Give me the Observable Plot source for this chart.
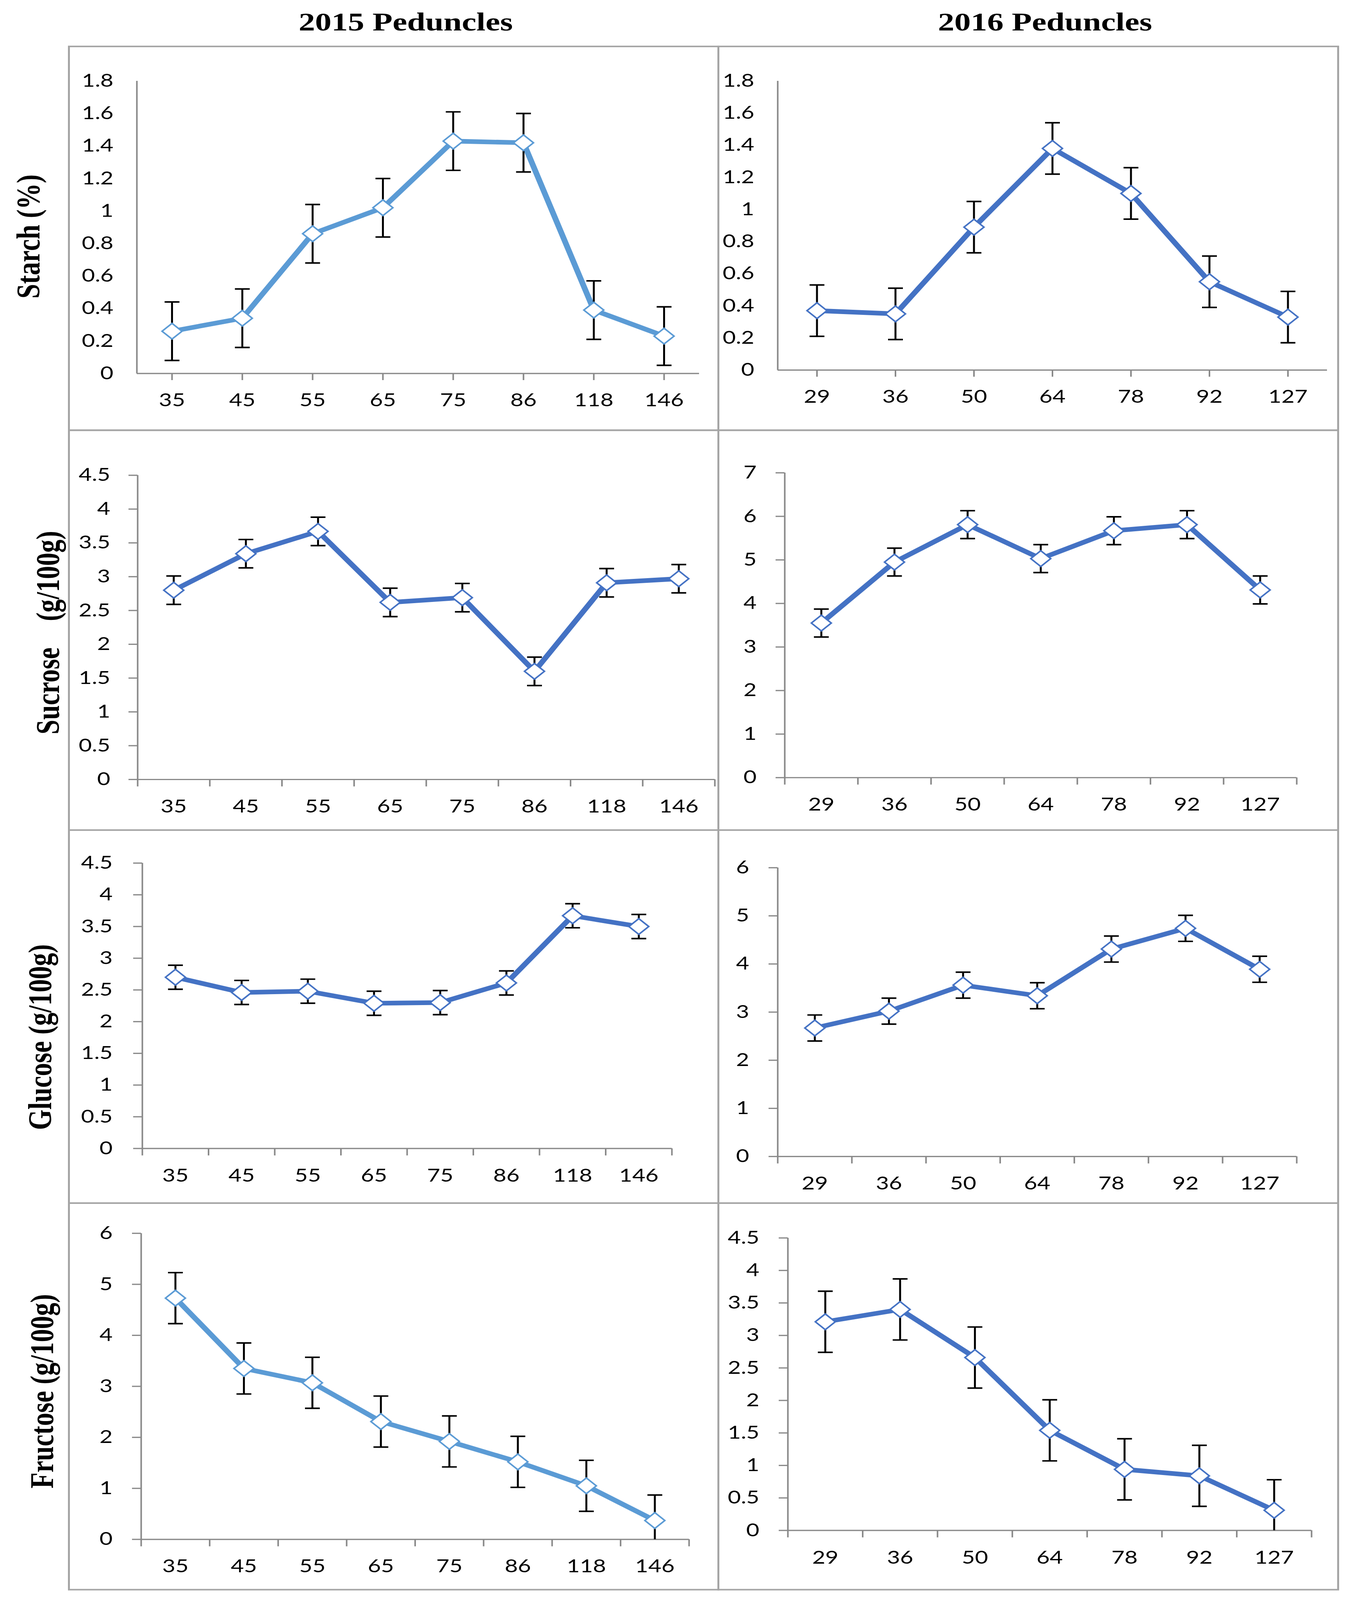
<!DOCTYPE html>
<html>
<head>
<meta charset="utf-8">
<script src="https://cdn.jsdelivr.net/npm/d3@7"></script>
<script src="https://cdn.jsdelivr.net/npm/@observablehq/plot@0.6"></script>
<style>
html,body{margin:0;padding:0;background:#fff;overflow:hidden;}
#root{position:absolute;left:0;top:0;width:3462px;height:5186px;overflow:hidden;background:#fff;transform-origin:0 0;}
.title{position:absolute;font-family:"Liberation Serif","Times New Roman",serif;font-weight:bold;font-size:84px;line-height:1;white-space:nowrap;transform:translate(-50%,-50%);color:#000;}
.panel{position:absolute;}
.box{position:absolute;border:5px solid #a5a5a5;box-sizing:border-box;}
</style>
</head>
<body>
<div id="root"></div>
<script>
// ---------- data ----------
const days2015 = ["35", "45", "55", "65", "75", "86", "118", "146"];
const days2016 = ["29", "36", "50", "64", "78", "92", "127"];

const starch2015 = [0.26, 0.34, 0.86, 1.02, 1.43, 1.42, 0.39, 0.23];
const starch2015Err = [0.18, 0.18, 0.18, 0.18, 0.18, 0.18, 0.18, 0.18];
const starch2016 = [0.37, 0.35, 0.89, 1.38, 1.10, 0.55, 0.33];
const starch2016Err = [0.16, 0.16, 0.16, 0.16, 0.16, 0.16, 0.16];

const sucrose2015 = [2.80, 3.34, 3.67, 2.62, 2.69, 1.60, 2.91, 2.97];
const sucrose2015Err = [0.21, 0.21, 0.21, 0.21, 0.21, 0.21, 0.21, 0.21];
const sucrose2016 = [3.55, 4.95, 5.81, 5.03, 5.67, 5.81, 4.31];
const sucrose2016Err = [0.32, 0.32, 0.32, 0.32, 0.32, 0.32, 0.32];

const glucose2015 = [2.70, 2.46, 2.48, 2.29, 2.30, 2.61, 3.67, 3.50];
const glucose2015Err = [0.19, 0.19, 0.19, 0.19, 0.19, 0.19, 0.19, 0.19];
const glucose2016 = [2.67, 3.02, 3.56, 3.34, 4.31, 4.74, 3.89];
const glucose2016Err = [0.27, 0.27, 0.27, 0.27, 0.27, 0.27, 0.27];

const fructose2015 = [4.73, 3.35, 3.07, 2.31, 1.92, 1.52, 1.05, 0.37];
const fructose2015Err = [0.50, 0.50, 0.50, 0.50, 0.50, 0.50, 0.50, 0.50];
const fructose2016 = [3.21, 3.40, 2.66, 1.54, 0.94, 0.84, 0.31];
const fructose2016Err = [0.47, 0.47, 0.47, 0.47, 0.47, 0.47, 0.47];

const ticksStarch = [0, 0.2, 0.4, 0.6, 0.8, 1, 1.2, 1.4, 1.6, 1.8];
const ticksHalf45 = [0, 0.5, 1, 1.5, 2, 2.5, 3, 3.5, 4, 4.5];
const ticks7 = [0, 1, 2, 3, 4, 5, 6, 7];
const ticks6 = [0, 1, 2, 3, 4, 5, 6];

const columnTitles = ["2015 Peduncles", "2016 Peduncles"];
const rowLabels = ["Starch (%)", "Sucrose\u00a0\u00a0\u00a0\u00a0(g/100g)", "Glucose (g/100g)", "Fructose (g/100g)"];

// ---------- styles / layout ----------
const lightBlue = "#5B9BD5";
const darkBlue = "#4472C4";
const axisGrey = "#898989";

const PAGE_W = 3462, PAGE_H = 5186;
const root = document.getElementById("root");
// the window may be shorter than the reference: fit the full figure into it
const sy = Math.min(1, (window.innerHeight || PAGE_H) / PAGE_H);
const sx = Math.min(1, (window.innerWidth || PAGE_W) / PAGE_W);
root.style.transform = `scale(${sx}, ${sy})`;

const colX = [{left: 0, width: 1839}, {left: 1839, width: 1587}];
const rowY = [{top: 150, height: 1244}, {top: 1394, height: 1296}, {top: 2690, height: 1209}, {top: 3899, height: 1253}];

const panels = [
  {col: 0, row: 0, cats: days2015, vals: starch2015, errs: starch2015Err, ticks: ticksStarch, ymax: 1.8, color: lightBlue, centerTicks: true,
   m: [112, 49, 184, 350], yPad: 60, label: rowLabels[0], labelPos: [73, 766]},
  {col: 1, row: 0, cats: days2016, vals: starch2016, errs: starch2016Err, ticks: ticksStarch, ymax: 1.8, color: darkBlue, centerTicks: true,
   m: [112, 28, 195, 152], yPad: 60},
  {col: 0, row: 1, cats: days2015, vals: sucrose2015, errs: sucrose2015Err, ticks: ticksHalf45, ymax: 4.5, color: darkBlue, centerTicks: false,
   m: [146, 9, 164, 352], yPad: 47, label: rowLabels[1], labelPos: [123, 2050]},
  {col: 1, row: 1, cats: days2016, vals: sucrose2016, errs: sucrose2016Err, ticks: ticks7, ymax: 7, color: darkBlue, centerTicks: false,
   m: [138, 106, 170, 170], yPad: 49},
  {col: 0, row: 2, cats: days2015, vals: glucose2015, errs: glucose2015Err, ticks: ticksHalf45, ymax: 4.5, color: darkBlue, centerTicks: false,
   m: [107, 119, 177, 364], yPad: 53, label: rowLabels[2], labelPos: [103, 3361]},
  {col: 1, row: 2, cats: days2016, vals: glucose2016, errs: glucose2016Err, ticks: ticks6, ymax: 6, color: darkBlue, centerTicks: false,
   m: [122, 106, 151, 152], yPad: 50},
  {col: 0, row: 3, cats: days2015, vals: fructose2015, errs: fructose2015Err, ticks: ticks6, ymax: 6, color: lightBlue, centerTicks: false,
   m: [98, 75, 163, 361], yPad: 50, label: rowLabels[3], labelPos: [108, 4509]},
  {col: 1, row: 3, cats: days2016, vals: fructose2016, errs: fructose2016Err, ticks: ticksHalf45, ymax: 4.5, color: darkBlue, centerTicks: false,
   m: [113, 68, 192, 178], yPad: 50}
];

const capSymbol = {
  draw(ctx, size) {
    const r = Math.sqrt(size / Math.PI);
    ctx.moveTo(-r, 0);
    ctx.lineTo(r, 0);
  }
};

function makePanel(p) {
  const n = p.cats.length;
  const cx = colX[p.col], ry = rowY[p.row];
  const [mt, mr, mb, ml] = p.m;
  const rows = p.cats.map((c, i) => {
    const v = p.vals[i], e = p.errs[i];
    return {xi: i + 0.5, v, lo: Math.max(0, v - e), hi: v + e, clipped: v - e <= 0};
  });
  const centers = d3.range(n).map(i => i + 0.5);
  const bounds = d3.range(n + 1);
  const fmtCat = v => p.cats[Math.floor(v)];

  const marks = [
    Plot.axisY(p.ticks, {
      tickSize: p.centerTicks ? 0 : 23, tickPadding: p.yPad,
      stroke: axisGrey, strokeWidth: 4, fill: "black", label: null,
      tickFormat: d => String(d)
    })
  ];
  if (p.centerTicks) {
    marks.push(Plot.axisX(centers, {
      tickSize: 22, tickPadding: 43, stroke: axisGrey, strokeWidth: 4, fill: "black",
      label: null, tickFormat: fmtCat
    }));
  } else {
    marks.push(Plot.axisX(bounds, {
      tickSize: 23, stroke: axisGrey, strokeWidth: 4, label: null, tickFormat: () => ""
    }));
    marks.push(Plot.axisX(centers, {
      tickSize: 0, tickPadding: 66, fill: "black", label: null, tickFormat: fmtCat
    }));
  }
  marks.push(
    Plot.ruleX([0], {stroke: axisGrey, strokeWidth: 4}),
    Plot.ruleY([0], {stroke: axisGrey, strokeWidth: 4}),
    Plot.line(rows, {x: "xi", y: "v", stroke: p.color, strokeWidth: 15, strokeLinejoin: "round", strokeLinecap: "round"}),
    Plot.ruleX(rows, {x: "xi", y1: "lo", y2: "hi", stroke: "black", strokeWidth: 5}),
    Plot.dot(rows, {x: "xi", y: "hi", symbol: capSymbol, r: 19, stroke: "black", strokeWidth: 5, fill: "none"}),
    Plot.dot(rows.filter(d => !d.clipped), {x: "xi", y: "lo", symbol: capSymbol, r: 19, stroke: "black", strokeWidth: 5, fill: "none"}),
    Plot.dot(rows, {x: "xi", y: "v", symbol: "diamond2", r: 23, fill: "white", stroke: p.color, strokeWidth: 4.5})
  );
  if (p.label) {
    const frameCenterY = ry.top + mt + (ry.height - mt - mb) / 2;
    marks.push(Plot.text([p.label], {
      text: d => d, frameAnchor: "left", textAnchor: "middle", lineAnchor: "middle", rotate: -90,
      dx: p.labelPos[0] - cx.left - ml, dy: p.labelPos[1] - frameCenterY,
      fontFamily: "Liberation Serif", fontWeight: "bold", fontSize: 85, fill: "black"
    }));
  }

  const svg = Plot.plot({
    width: cx.width, height: ry.height,
    marginTop: mt, marginRight: mr, marginBottom: mb, marginLeft: ml,
    x: {domain: [0, n], label: null},
    y: {domain: [0, p.ymax], label: null},
    style: {fontFamily: "Lato, 'Open Sans', sans-serif", fontSize: "58px", background: "transparent", overflow: "visible", maxWidth: "none", color: "black"},
    marks
  });
  const div = document.createElement("div");
  div.className = "panel";
  div.style.left = cx.left + "px";
  div.style.top = ry.top + "px";
  div.style.width = cx.width + "px";
  div.style.height = ry.height + "px";
  div.appendChild(svg);
  root.appendChild(div);
}

panels.forEach(makePanel);

// panel boxes
const boxCols = [{left: 174, width: 1668}, {left: 1837, width: 1592}];
const boxRows = [{top: 148, height: 1249}, {top: 1392, height: 1301}, {top: 2688, height: 1214}, {top: 3897, height: 1258}];
boxRows.forEach(r => boxCols.forEach(c => {
  const b = document.createElement("div");
  b.className = "box";
  b.style.left = c.left + "px"; b.style.top = r.top + "px";
  b.style.width = c.width + "px"; b.style.height = r.height + "px";
  root.appendChild(b);
}));

// column titles
const titlePos = [[1039, 71], [2676, 71]];
columnTitles.forEach((t, i) => {
  const d = document.createElement("div");
  d.className = "title";
  d.textContent = t;
  d.style.left = titlePos[i][0] + "px";
  d.style.top = titlePos[i][1] + "px";
  root.appendChild(d);
});
</script>
</body>
</html>
